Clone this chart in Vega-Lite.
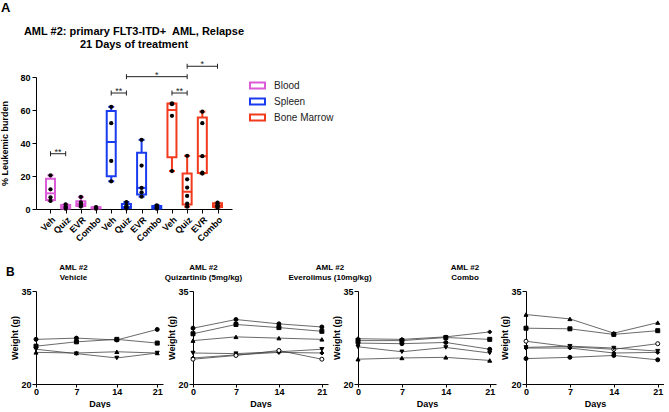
{
  "$schema": "https://vega.github.io/schema/vega-lite/v6.json",
  "padding": {"left": 0, "top": 2, "right": 0, "bottom": 0},
  "background": "white",
  "config": {
    "font": "Liberation Sans",
    "view": {"stroke": null},
    "axis": {"grid": false, "domainColor": "black", "tickColor": "black", "labelColor": "black", "titleColor": "black", "labelFont": "Liberation Sans", "labelFontWeight": "bold", "labelFontSize": 9, "titleFontSize": 9, "titleFontWeight": "bold", "tickSize": 4, "labelPadding": 2, "labelOverlap": false, "labelBound": false, "labelFlush": false},
    "legend": {"symbolType": "M-1,-0.4H1V0.4H-1Z", "symbolSize": 225, "symbolFillColor": "white", "symbolStrokeWidth": 2},
    "title": {"color": "black", "fontWeight": "bold"}
  },
  "datasets": {
    "boxes": [
      {"tissue": "Blood", "treatment": "Veh", "min": 4.9, "q1": 5.4, "median": 9.5, "q3": 18.3, "max": 20.4},
      {"tissue": "Blood", "treatment": "Quiz", "min": 0.2, "q1": 0.35, "median": 1.15, "q3": 2.5, "max": 2.8},
      {"tissue": "Blood", "treatment": "EVR", "min": 1.5, "q1": 1.8, "median": 3.0, "q3": 4.7, "max": 7.3},
      {"tissue": "Blood", "treatment": "Combo", "min": 0.2, "q1": 0.3, "median": 0.65, "q3": 1.1, "max": 1.2},
      {"tissue": "Spleen", "treatment": "Veh", "min": 16.8, "q1": 19.9, "median": 40.6, "q3": 59.4, "max": 61.9},
      {"tissue": "Spleen", "treatment": "Quiz", "min": 0.3, "q1": 0.55, "median": 1.2, "q3": 3.1, "max": 4.2},
      {"tissue": "Spleen", "treatment": "EVR", "min": 7.5, "q1": 8.8, "median": 12.8, "q3": 34.1, "max": 41.9},
      {"tissue": "Spleen", "treatment": "Combo", "min": 0.2, "q1": 0.35, "median": 0.9, "q3": 1.8, "max": 2.2},
      {"tissue": "Bone Marrow", "treatment": "Veh", "min": 23.0, "q1": 31.4, "median": 60.0, "q3": 63.9, "max": 64.0},
      {"tissue": "Bone Marrow", "treatment": "Quiz", "min": 1.4, "q1": 2.75, "median": 10.45, "q3": 21.55, "max": 32.2},
      {"tissue": "Bone Marrow", "treatment": "EVR", "min": 21.5, "q1": 21.75, "median": 32.0, "q3": 55.5, "max": 59.0},
      {"tissue": "Bone Marrow", "treatment": "Combo", "min": 0.8, "q1": 1.2, "median": 2.2, "q3": 3.5, "max": 3.8}
    ],
    "points": [
      {"tissue": "Blood", "treatment": "Veh", "value": 20.4},
      {"tissue": "Blood", "treatment": "Veh", "value": 11.9},
      {"tissue": "Blood", "treatment": "Veh", "value": 7.1},
      {"tissue": "Blood", "treatment": "Veh", "value": 4.9},
      {"tissue": "Blood", "treatment": "Quiz", "value": 0.2},
      {"tissue": "Blood", "treatment": "Quiz", "value": 0.8},
      {"tissue": "Blood", "treatment": "Quiz", "value": 1.5},
      {"tissue": "Blood", "treatment": "Quiz", "value": 2.8},
      {"tissue": "Blood", "treatment": "EVR", "value": 7.3},
      {"tissue": "Blood", "treatment": "EVR", "value": 4.0},
      {"tissue": "Blood", "treatment": "EVR", "value": 3.0},
      {"tissue": "Blood", "treatment": "EVR", "value": 2.5},
      {"tissue": "Blood", "treatment": "EVR", "value": 1.5},
      {"tissue": "Blood", "treatment": "Combo", "value": 0.2},
      {"tissue": "Blood", "treatment": "Combo", "value": 0.5},
      {"tissue": "Blood", "treatment": "Combo", "value": 0.8},
      {"tissue": "Blood", "treatment": "Combo", "value": 1.2},
      {"tissue": "Spleen", "treatment": "Veh", "value": 61.9},
      {"tissue": "Spleen", "treatment": "Veh", "value": 52.0},
      {"tissue": "Spleen", "treatment": "Veh", "value": 29.1},
      {"tissue": "Spleen", "treatment": "Veh", "value": 16.8},
      {"tissue": "Spleen", "treatment": "Quiz", "value": 0.3},
      {"tissue": "Spleen", "treatment": "Quiz", "value": 0.8},
      {"tissue": "Spleen", "treatment": "Quiz", "value": 1.2},
      {"tissue": "Spleen", "treatment": "Quiz", "value": 2.0},
      {"tissue": "Spleen", "treatment": "Quiz", "value": 4.2},
      {"tissue": "Spleen", "treatment": "EVR", "value": 41.9},
      {"tissue": "Spleen", "treatment": "EVR", "value": 26.3},
      {"tissue": "Spleen", "treatment": "EVR", "value": 12.8},
      {"tissue": "Spleen", "treatment": "EVR", "value": 10.1},
      {"tissue": "Spleen", "treatment": "EVR", "value": 7.5},
      {"tissue": "Spleen", "treatment": "Combo", "value": 0.2},
      {"tissue": "Spleen", "treatment": "Combo", "value": 0.5},
      {"tissue": "Spleen", "treatment": "Combo", "value": 0.9},
      {"tissue": "Spleen", "treatment": "Combo", "value": 1.4},
      {"tissue": "Spleen", "treatment": "Combo", "value": 2.2},
      {"tissue": "Bone Marrow", "treatment": "Veh", "value": 64.0},
      {"tissue": "Bone Marrow", "treatment": "Veh", "value": 63.5},
      {"tissue": "Bone Marrow", "treatment": "Veh", "value": 56.5},
      {"tissue": "Bone Marrow", "treatment": "Veh", "value": 23.0},
      {"tissue": "Bone Marrow", "treatment": "Quiz", "value": 32.2},
      {"tissue": "Bone Marrow", "treatment": "Quiz", "value": 18.0},
      {"tissue": "Bone Marrow", "treatment": "Quiz", "value": 13.0},
      {"tissue": "Bone Marrow", "treatment": "Quiz", "value": 7.9},
      {"tissue": "Bone Marrow", "treatment": "Quiz", "value": 3.2},
      {"tissue": "Bone Marrow", "treatment": "Quiz", "value": 1.4},
      {"tissue": "Bone Marrow", "treatment": "EVR", "value": 59.0},
      {"tissue": "Bone Marrow", "treatment": "EVR", "value": 52.0},
      {"tissue": "Bone Marrow", "treatment": "EVR", "value": 32.0},
      {"tissue": "Bone Marrow", "treatment": "EVR", "value": 22.0},
      {"tissue": "Bone Marrow", "treatment": "EVR", "value": 21.5},
      {"tissue": "Bone Marrow", "treatment": "Combo", "value": 3.8},
      {"tissue": "Bone Marrow", "treatment": "Combo", "value": 3.2},
      {"tissue": "Bone Marrow", "treatment": "Combo", "value": 2.2},
      {"tissue": "Bone Marrow", "treatment": "Combo", "value": 1.6},
      {"tissue": "Bone Marrow", "treatment": "Combo", "value": 0.8}
    ],
    "brackets": [
      {"fromTissue": "Blood", "fromTreatment": "Veh", "toTissue": "Blood", "toTreatment": "Quiz", "y": 33.5, "label": "**"},
      {"fromTissue": "Spleen", "fromTreatment": "Veh", "toTissue": "Spleen", "toTreatment": "Quiz", "y": 70.3, "label": "**"},
      {"fromTissue": "Spleen", "fromTreatment": "Quiz", "toTissue": "Bone Marrow", "toTreatment": "Quiz", "y": 80.2, "label": "*"},
      {"fromTissue": "Bone Marrow", "fromTreatment": "Veh", "toTissue": "Bone Marrow", "toTreatment": "Quiz", "y": 70.3, "label": "**"},
      {"fromTissue": "Bone Marrow", "fromTreatment": "Quiz", "toTissue": "Bone Marrow", "toTreatment": "Combo", "y": 86.5, "label": "*"}
    ],
    "weights": [
      {"panel": "Vehicle", "mouse": "m1", "day": 0, "weight": 27.2},
      {"panel": "Vehicle", "mouse": "m1", "day": 7, "weight": 27.4},
      {"panel": "Vehicle", "mouse": "m1", "day": 14, "weight": 27.1},
      {"panel": "Vehicle", "mouse": "m1", "day": 21, "weight": 28.8},
      {"panel": "Vehicle", "mouse": "m2", "day": 0, "weight": 26.1},
      {"panel": "Vehicle", "mouse": "m2", "day": 7, "weight": 26.8},
      {"panel": "Vehicle", "mouse": "m2", "day": 14, "weight": 27.2},
      {"panel": "Vehicle", "mouse": "m2", "day": 21, "weight": 26.6},
      {"panel": "Vehicle", "mouse": "m3", "day": 0, "weight": 25.1},
      {"panel": "Vehicle", "mouse": "m3", "day": 7, "weight": 25.0},
      {"panel": "Vehicle", "mouse": "m3", "day": 14, "weight": 25.2},
      {"panel": "Vehicle", "mouse": "m3", "day": 21, "weight": 25.0},
      {"panel": "Vehicle", "mouse": "m4", "day": 0, "weight": 25.6},
      {"panel": "Vehicle", "mouse": "m4", "day": 7, "weight": 24.9},
      {"panel": "Vehicle", "mouse": "m4", "day": 14, "weight": 24.2},
      {"panel": "Vehicle", "mouse": "m4", "day": 21, "weight": 25.0},
      {"panel": "Quiz", "mouse": "m1", "day": 0, "weight": 29.0},
      {"panel": "Quiz", "mouse": "m1", "day": 7, "weight": 30.4},
      {"panel": "Quiz", "mouse": "m1", "day": 14, "weight": 29.7},
      {"panel": "Quiz", "mouse": "m1", "day": 21, "weight": 29.2},
      {"panel": "Quiz", "mouse": "m2", "day": 0, "weight": 28.1},
      {"panel": "Quiz", "mouse": "m2", "day": 7, "weight": 29.6},
      {"panel": "Quiz", "mouse": "m2", "day": 14, "weight": 29.1},
      {"panel": "Quiz", "mouse": "m2", "day": 21, "weight": 28.5},
      {"panel": "Quiz", "mouse": "m3", "day": 0, "weight": 27.0},
      {"panel": "Quiz", "mouse": "m3", "day": 7, "weight": 27.6},
      {"panel": "Quiz", "mouse": "m3", "day": 14, "weight": 27.4},
      {"panel": "Quiz", "mouse": "m3", "day": 21, "weight": 27.2},
      {"panel": "Quiz", "mouse": "m4", "day": 0, "weight": 25.0},
      {"panel": "Quiz", "mouse": "m4", "day": 7, "weight": 24.9},
      {"panel": "Quiz", "mouse": "m4", "day": 14, "weight": 25.2},
      {"panel": "Quiz", "mouse": "m4", "day": 21, "weight": 25.6},
      {"panel": "Quiz", "mouse": "m5", "day": 0, "weight": 24.2},
      {"panel": "Quiz", "mouse": "m5", "day": 7, "weight": 24.7},
      {"panel": "Quiz", "mouse": "m5", "day": 14, "weight": 25.1},
      {"panel": "Quiz", "mouse": "m5", "day": 21, "weight": 25.0},
      {"panel": "Quiz", "mouse": "m6", "day": 0, "weight": 24.0},
      {"panel": "Quiz", "mouse": "m6", "day": 7, "weight": 24.6},
      {"panel": "Quiz", "mouse": "m6", "day": 14, "weight": 25.4},
      {"panel": "Quiz", "mouse": "m6", "day": 21, "weight": 24.0},
      {"panel": "EVR", "mouse": "m5", "day": 0, "weight": 27.3},
      {"panel": "EVR", "mouse": "m5", "day": 7, "weight": 27.2},
      {"panel": "EVR", "mouse": "m5", "day": 14, "weight": 27.6},
      {"panel": "EVR", "mouse": "m5", "day": 21, "weight": 28.4},
      {"panel": "EVR", "mouse": "m2", "day": 0, "weight": 27.0},
      {"panel": "EVR", "mouse": "m2", "day": 7, "weight": 27.0},
      {"panel": "EVR", "mouse": "m2", "day": 14, "weight": 27.5},
      {"panel": "EVR", "mouse": "m2", "day": 21, "weight": 27.2},
      {"panel": "EVR", "mouse": "m1", "day": 0, "weight": 26.6},
      {"panel": "EVR", "mouse": "m1", "day": 7, "weight": 26.5},
      {"panel": "EVR", "mouse": "m1", "day": 14, "weight": 26.7},
      {"panel": "EVR", "mouse": "m1", "day": 21, "weight": 25.6},
      {"panel": "EVR", "mouse": "m4", "day": 0, "weight": 26.0},
      {"panel": "EVR", "mouse": "m4", "day": 7, "weight": 25.2},
      {"panel": "EVR", "mouse": "m4", "day": 14, "weight": 25.9},
      {"panel": "EVR", "mouse": "m4", "day": 21, "weight": 25.0},
      {"panel": "EVR", "mouse": "m3", "day": 0, "weight": 24.0},
      {"panel": "EVR", "mouse": "m3", "day": 7, "weight": 24.2},
      {"panel": "EVR", "mouse": "m3", "day": 14, "weight": 24.3},
      {"panel": "EVR", "mouse": "m3", "day": 21, "weight": 23.8},
      {"panel": "Combo", "mouse": "m3", "day": 0, "weight": 31.2},
      {"panel": "Combo", "mouse": "m3", "day": 7, "weight": 30.5},
      {"panel": "Combo", "mouse": "m3", "day": 14, "weight": 28.2},
      {"panel": "Combo", "mouse": "m3", "day": 21, "weight": 29.9},
      {"panel": "Combo", "mouse": "m2", "day": 0, "weight": 29.0},
      {"panel": "Combo", "mouse": "m2", "day": 7, "weight": 28.9},
      {"panel": "Combo", "mouse": "m2", "day": 14, "weight": 28.0},
      {"panel": "Combo", "mouse": "m2", "day": 21, "weight": 28.6},
      {"panel": "Combo", "mouse": "m6", "day": 0, "weight": 26.9},
      {"panel": "Combo", "mouse": "m6", "day": 7, "weight": 26.0},
      {"panel": "Combo", "mouse": "m6", "day": 14, "weight": 25.6},
      {"panel": "Combo", "mouse": "m6", "day": 21, "weight": 26.5},
      {"panel": "Combo", "mouse": "m4", "day": 0, "weight": 25.9},
      {"panel": "Combo", "mouse": "m4", "day": 7, "weight": 26.1},
      {"panel": "Combo", "mouse": "m4", "day": 14, "weight": 25.8},
      {"panel": "Combo", "mouse": "m4", "day": 21, "weight": 25.3},
      {"panel": "Combo", "mouse": "m5", "day": 0, "weight": 25.8},
      {"panel": "Combo", "mouse": "m5", "day": 7, "weight": 25.8},
      {"panel": "Combo", "mouse": "m5", "day": 14, "weight": 25.0},
      {"panel": "Combo", "mouse": "m5", "day": 21, "weight": 25.1},
      {"panel": "Combo", "mouse": "m1", "day": 0, "weight": 24.1},
      {"panel": "Combo", "mouse": "m1", "day": 7, "weight": 24.3},
      {"panel": "Combo", "mouse": "m1", "day": 14, "weight": 24.6},
      {"panel": "Combo", "mouse": "m1", "day": 21, "weight": 23.9}
    ]
  },
  "title": {"text": "A", "anchor": "start", "fontSize": 13, "fontWeight": "bold", "offset": 11},
  "columns": 1,
  "align": "none",
  "spacing": 20,
  "resolve": {"scale": {"stroke": "independent", "shape": "independent"}, "legend": {"stroke": "independent", "shape": "independent"}},
  "concat": [
    {
      "width": 196,
      "height": 132,
      "title": {"text": ["AML #2: primary FLT3-ITD+\u00a0 AML, Relapse", "21 Days of treatment"], "fontSize": 11, "lineHeight": 13, "anchor": "middle", "offset": 10},
      "layer": [
        {
          "data": {"name": "points"},
          "transform": [{"calculate": "indexof(['Blood','Spleen','Bone Marrow'], datum.tissue)*4 + indexof(['Veh','Quiz','EVR','Combo'], datum.treatment) + 1", "as": "pos"}],
          "mark": {"type": "point", "opacity": 0},
          "encoding": {
            "x": {"field": "pos", "type": "quantitative", "scale": {"domain": [0.375, 12.625], "nice": false, "zero": false}, "axis": {"values": [1,2,3,4,5,6,7,8,9,10,11,12], "tickCount": 12, "labelExpr": "['Veh','Quiz','EVR','Combo'][(datum.value-1)%4]", "labelAngle": -45, "labelOverlap": false, "title": null}},
            "y": {"field": "value", "type": "quantitative", "scale": {"domain": [0, 80], "nice": false}, "axis": {"values": [0,20,40,60,80], "tickCount": 5, "labelOverlap": false, "title": "% Leukemic burden", "titlePadding": 10}}
          }
        },
        {
          "data": {"name": "boxes"},
          "transform": [{"calculate": "indexof(['Blood','Spleen','Bone Marrow'], datum.tissue)*4 + indexof(['Veh','Quiz','EVR','Combo'], datum.treatment) + 1", "as": "pos"}],
          "mark": {"type": "rule", "strokeWidth": 2},
          "encoding": {
            "x": {"field": "pos", "type": "quantitative"},
            "y": {"field": "min", "type": "quantitative"},
            "y2": {"field": "q1"},
            "stroke": {"field": "tissue", "type": "nominal", "scale": {"domain": ["Blood", "Spleen", "Bone Marrow"], "range": ["#dc5ad8", "#1a3cf0", "#f23a1e"]}, "legend": {"title": null, "orient": "right", "offset": 17, "padding": 0, "symbolType": "M-1,-0.4H1V0.4H-1Z", "symbolSize": 225, "symbolFillColor": "white", "symbolStrokeWidth": 2, "labelFontSize": 10, "labelColor": "#222", "labelOffset": 8, "rowPadding": 0}}
          }
        },
        {
          "data": {"name": "boxes"},
          "transform": [{"calculate": "indexof(['Blood','Spleen','Bone Marrow'], datum.tissue)*4 + indexof(['Veh','Quiz','EVR','Combo'], datum.treatment) + 1", "as": "pos"}],
          "mark": {"type": "rule", "strokeWidth": 2},
          "encoding": {
            "x": {"field": "pos", "type": "quantitative"},
            "y": {"field": "q3", "type": "quantitative"},
            "y2": {"field": "max"},
            "stroke": {"field": "tissue", "type": "nominal"}
          }
        },
        {
          "data": {"name": "boxes"},
          "transform": [{"calculate": "indexof(['Blood','Spleen','Bone Marrow'], datum.tissue)*4 + indexof(['Veh','Quiz','EVR','Combo'], datum.treatment) + 1", "as": "pos"}],
          "mark": {"type": "bar", "width": 9, "fill": "white", "strokeWidth": 2},
          "encoding": {
            "x": {"field": "pos", "type": "quantitative"},
            "y": {"field": "q1", "type": "quantitative"},
            "y2": {"field": "q3"},
            "stroke": {"field": "tissue", "type": "nominal"}
          }
        },
        {
          "data": {"name": "boxes"},
          "transform": [{"calculate": "indexof(['Blood','Spleen','Bone Marrow'], datum.tissue)*4 + indexof(['Veh','Quiz','EVR','Combo'], datum.treatment) + 1", "as": "pos"}],
          "mark": {"type": "rule", "strokeWidth": 2, "xOffset": -5, "x2Offset": 5},
          "encoding": {
            "x": {"field": "pos", "type": "quantitative"},
            "x2": {"field": "pos"},
            "y": {"field": "median", "type": "quantitative"},
            "stroke": {"field": "tissue", "type": "nominal"}
          }
        },
        {
          "data": {"name": "boxes"},
          "transform": [{"calculate": "indexof(['Blood','Spleen','Bone Marrow'], datum.tissue)*4 + indexof(['Veh','Quiz','EVR','Combo'], datum.treatment) + 1", "as": "pos"}],
          "mark": {"type": "rule", "strokeWidth": 2, "xOffset": -3, "x2Offset": 3},
          "encoding": {
            "x": {"field": "pos", "type": "quantitative"},
            "x2": {"field": "pos"},
            "y": {"field": "min", "type": "quantitative"},
            "stroke": {"field": "tissue", "type": "nominal"}
          }
        },
        {
          "data": {"name": "boxes"},
          "transform": [{"calculate": "indexof(['Blood','Spleen','Bone Marrow'], datum.tissue)*4 + indexof(['Veh','Quiz','EVR','Combo'], datum.treatment) + 1", "as": "pos"}],
          "mark": {"type": "rule", "strokeWidth": 2, "xOffset": -3, "x2Offset": 3},
          "encoding": {
            "x": {"field": "pos", "type": "quantitative"},
            "x2": {"field": "pos"},
            "y": {"field": "max", "type": "quantitative"},
            "stroke": {"field": "tissue", "type": "nominal"}
          }
        },
        {
          "data": {"name": "points"},
          "transform": [{"calculate": "indexof(['Blood','Spleen','Bone Marrow'], datum.tissue)*4 + indexof(['Veh','Quiz','EVR','Combo'], datum.treatment) + 1", "as": "pos"}],
          "mark": {"type": "point", "filled": true, "color": "black", "size": 18, "opacity": 1},
          "encoding": {
            "x": {"field": "pos", "type": "quantitative"},
            "y": {"field": "value", "type": "quantitative"}
          }
        },
        {
          "data": {"name": "brackets"},
          "transform": [
            {"calculate": "indexof(['Blood','Spleen','Bone Marrow'], datum.fromTissue)*4 + indexof(['Veh','Quiz','EVR','Combo'], datum.fromTreatment) + 1", "as": "x1"},
            {"calculate": "indexof(['Blood','Spleen','Bone Marrow'], datum.toTissue)*4 + indexof(['Veh','Quiz','EVR','Combo'], datum.toTreatment) + 1", "as": "x2"}
          ],
          "mark": {"type": "rule", "color": "#222", "strokeWidth": 1},
          "encoding": {
            "x": {"field": "x1", "type": "quantitative"},
            "x2": {"field": "x2"},
            "y": {"field": "y", "type": "quantitative"}
          }
        },
        {
          "data": {"name": "brackets"},
          "transform": [
            {"calculate": "indexof(['Blood','Spleen','Bone Marrow'], datum.fromTissue)*4 + indexof(['Veh','Quiz','EVR','Combo'], datum.fromTreatment) + 1", "as": "x1"},
            {"calculate": "indexof(['Blood','Spleen','Bone Marrow'], datum.toTissue)*4 + indexof(['Veh','Quiz','EVR','Combo'], datum.toTreatment) + 1", "as": "x2"},
            {"fold": ["x1", "x2"], "as": ["end", "xend"]}
          ],
          "mark": {"type": "point", "shape": "M0,-1V1", "size": 25, "stroke": "#222", "strokeWidth": 1, "opacity": 1},
          "encoding": {
            "x": {"field": "xend", "type": "quantitative"},
            "y": {"field": "y", "type": "quantitative"}
          }
        },
        {
          "data": {"name": "brackets"},
          "transform": [
            {"calculate": "indexof(['Blood','Spleen','Bone Marrow'], datum.fromTissue)*4 + indexof(['Veh','Quiz','EVR','Combo'], datum.fromTreatment) + 1", "as": "x1"},
            {"calculate": "indexof(['Blood','Spleen','Bone Marrow'], datum.toTissue)*4 + indexof(['Veh','Quiz','EVR','Combo'], datum.toTreatment) + 1", "as": "x2"},
            {"calculate": "(datum.x1 + datum.x2) / 2", "as": "mid"}
          ],
          "mark": {"type": "text", "fontSize": 9, "baseline": "alphabetic", "dy": 1, "color": "#222"},
          "encoding": {
            "x": {"field": "mid", "type": "quantitative"},
            "y": {"field": "y", "type": "quantitative"},
            "text": {"field": "label"}
          }
        }
      ]
    },
    {
      "title": {"text": "B", "anchor": "start", "fontSize": 12, "fontWeight": "bold", "offset": -15, "dx": -5},
      "spacing": 30,
      "bounds": "flush",
      "hconcat": [
        {
          "width": 127, "height": 93,
          "title": {"text": ["AML #2", "Vehicle"], "fontSize": 8, "lineHeight": 10, "dx": -26, "offset": 5},
          "data": {"name": "weights"},
          "transform": [{"filter": "datum.panel === 'Vehicle'"}],
          "layer": [
            {"mark": {"type": "line", "color": "#444", "strokeWidth": 0.8}, "encoding": {"x": {"field": "day", "type": "quantitative", "scale": {"domain": [0, 21]}, "axis": {"values": [0, 7, 14, 21], "title": "Days", "tickSize": 3, "labelPadding": 0, "titlePadding": 3}}, "y": {"field": "weight", "type": "quantitative", "scale": {"domain": [20, 35], "nice": false, "zero": false}, "axis": {"values": [20, 25, 30, 35], "title": "Weight (g)", "titlePadding": 1, "labelPadding": 1}}, "detail": {"field": "mouse"}}},
            {"mark": {"type": "point", "size": 16, "stroke": "black", "strokeWidth": 1, "opacity": 1}, "encoding": {"x": {"field": "day", "type": "quantitative"}, "y": {"field": "weight", "type": "quantitative"}, "shape": {"field": "mouse", "type": "nominal", "scale": {"domain": ["m1","m2","m3","m4","m5","m6"], "range": ["circle","square","triangle-up","triangle-down","diamond","circle"]}, "legend": null}, "fill": {"condition": {"test": "datum.mouse === 'm6'", "value": "white"}, "value": "black"}}}
          ]
        },
        {
          "width": 135, "height": 93,
          "title": {"text": ["AML #2", "Quizartinib (5mg/kg)"], "fontSize": 8, "lineHeight": 10, "dx": -57, "offset": 5},
          "data": {"name": "weights"},
          "transform": [{"filter": "datum.panel === 'Quiz'"}],
          "layer": [
            {"mark": {"type": "line", "color": "#444", "strokeWidth": 0.8}, "encoding": {"x": {"field": "day", "type": "quantitative", "scale": {"domain": [0, 21]}, "axis": {"values": [0, 7, 14, 21], "title": "Days", "tickSize": 3, "labelPadding": 0, "titlePadding": 3}}, "y": {"field": "weight", "type": "quantitative", "scale": {"domain": [20, 35], "nice": false, "zero": false}, "axis": {"values": [20, 25, 30, 35], "title": "Weight (g)", "titlePadding": 1, "labelPadding": 1}}, "detail": {"field": "mouse"}}},
            {"mark": {"type": "point", "size": 16, "stroke": "black", "strokeWidth": 1, "opacity": 1}, "encoding": {"x": {"field": "day", "type": "quantitative"}, "y": {"field": "weight", "type": "quantitative"}, "shape": {"field": "mouse", "type": "nominal", "scale": {"domain": ["m1","m2","m3","m4","m5","m6"], "range": ["circle","square","triangle-up","triangle-down","diamond","circle"]}, "legend": null}, "fill": {"condition": {"test": "datum.mouse === 'm6'", "value": "white"}, "value": "black"}}}
          ]
        },
        {
          "width": 138, "height": 93,
          "title": {"text": ["AML #2", "Everolimus (10mg/kg)"], "fontSize": 8, "lineHeight": 10, "dx": -97, "offset": 5},
          "data": {"name": "weights"},
          "transform": [{"filter": "datum.panel === 'EVR'"}],
          "layer": [
            {"mark": {"type": "line", "color": "#444", "strokeWidth": 0.8}, "encoding": {"x": {"field": "day", "type": "quantitative", "scale": {"domain": [0, 21]}, "axis": {"values": [0, 7, 14, 21], "title": "Days", "tickSize": 3, "labelPadding": 0, "titlePadding": 3}}, "y": {"field": "weight", "type": "quantitative", "scale": {"domain": [20, 35], "nice": false, "zero": false}, "axis": {"values": [20, 25, 30, 35], "title": "Weight (g)", "titlePadding": 1, "labelPadding": 1}}, "detail": {"field": "mouse"}}},
            {"mark": {"type": "point", "size": 16, "stroke": "black", "strokeWidth": 1, "opacity": 1}, "encoding": {"x": {"field": "day", "type": "quantitative"}, "y": {"field": "weight", "type": "quantitative"}, "shape": {"field": "mouse", "type": "nominal", "scale": {"domain": ["m1","m2","m3","m4","m5","m6"], "range": ["circle","square","triangle-up","triangle-down","diamond","circle"]}, "legend": null}, "fill": {"condition": {"test": "datum.mouse === 'm6'", "value": "white"}, "value": "black"}}}
          ]
        },
        {
          "width": 138, "height": 93,
          "title": {"text": ["AML #2", "Combo"], "fontSize": 8, "lineHeight": 10, "dx": -130, "offset": 5},
          "data": {"name": "weights"},
          "transform": [{"filter": "datum.panel === 'Combo'"}],
          "layer": [
            {"mark": {"type": "line", "color": "#444", "strokeWidth": 0.8}, "encoding": {"x": {"field": "day", "type": "quantitative", "scale": {"domain": [0, 21]}, "axis": {"values": [0, 7, 14, 21], "title": "Days", "tickSize": 3, "labelPadding": 0, "titlePadding": 3}}, "y": {"field": "weight", "type": "quantitative", "scale": {"domain": [20, 35], "nice": false, "zero": false}, "axis": {"values": [20, 25, 30, 35], "title": "Weight (g)", "titlePadding": 1, "labelPadding": 1}}, "detail": {"field": "mouse"}}},
            {"mark": {"type": "point", "size": 16, "stroke": "black", "strokeWidth": 1, "opacity": 1}, "encoding": {"x": {"field": "day", "type": "quantitative"}, "y": {"field": "weight", "type": "quantitative"}, "shape": {"field": "mouse", "type": "nominal", "scale": {"domain": ["m1","m2","m3","m4","m5","m6"], "range": ["circle","square","triangle-up","triangle-down","diamond","circle"]}, "legend": null}, "fill": {"condition": {"test": "datum.mouse === 'm6'", "value": "white"}, "value": "black"}}}
          ]
        }
      ]
    }
  ]
}
